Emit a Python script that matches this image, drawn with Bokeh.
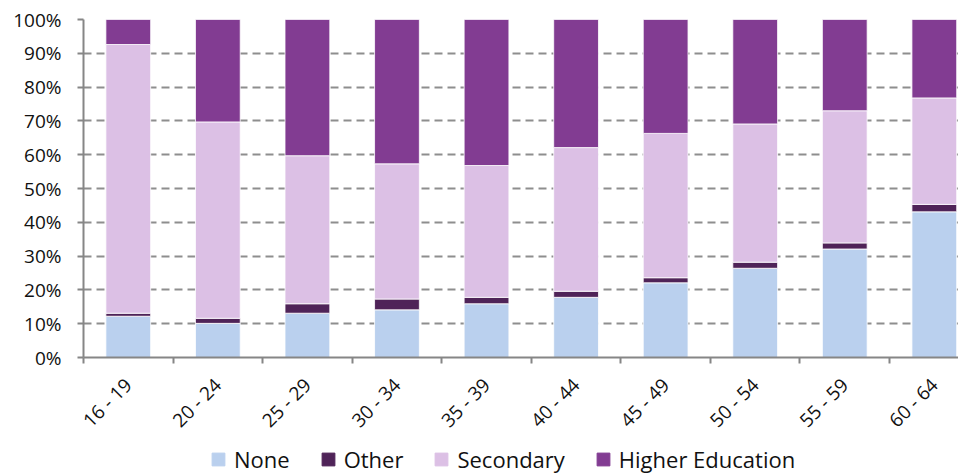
from math import pi
from bokeh.plotting import figure
from bokeh.layouts import column
from bokeh.models import (ColumnDataSource, FixedTicker, NumeralTickFormatter,
                          Range1d, Legend, LegendItem)
from bokeh.embed import file_html
from bokeh.resources import INLINE

categories = ["16 - 19", "20 - 24", "25 - 29", "30 - 34", "35 - 39",
              "40 - 44", "45 - 49", "50 - 54", "55 - 59", "60 - 64"]
none_pct = [12.2, 10.1, 13.1, 14.1, 15.9, 17.8, 22.1, 26.4, 32.1, 43.1]
other_pct = [0.9, 1.5, 2.8, 3.2, 1.9, 1.8, 1.5, 1.8, 1.8, 2.2]
secondary_pct = [79.5, 58.1, 43.8, 40.0, 39.0, 42.5, 42.7, 40.9, 39.1, 31.5]
higher_pct = [7.4, 30.3, 40.3, 42.7, 43.2, 37.9, 33.7, 30.9, 27.0, 23.2]

series = ["None", "Other", "Secondary", "Higher Education"]
colors = ["#BAD0EE", "#4F2358", "#DCC0E5", "#823C92"]
keys = ["none", "other", "secondary", "higher"]

FONT = "Open Sans"

x = [i + 0.5 for i in range(len(categories))]
src = ColumnDataSource(dict(
    x=x,
    none=[v / 100 for v in none_pct],
    other=[v / 100 for v in other_pct],
    secondary=[v / 100 for v in secondary_pct],
    higher=[v / 100 for v in higher_pct],
))

p = figure(width=958, height=445, output_backend="svg", toolbar_location=None,
           x_range=Range1d(0, 9.77), y_range=Range1d(0, 1))
p.min_border_left = 83
p.min_border_top = 19
p.min_border_right = 0
p.min_border_bottom = 88
p.outline_line_color = None

rs = p.vbar_stack(keys, x="x", width=0.5,
                  source=src, color=colors, line_color="white", line_width=0.8)

# grid
p.xgrid.visible = False
p.ygrid.grid_line_color = "#8E8E8E"
p.ygrid.grid_line_width = 2
p.ygrid.grid_line_dash = "8 5"
p.ygrid.ticker = FixedTicker(ticks=[i / 10 for i in range(11)])

# y axis
p.yaxis.ticker = FixedTicker(ticks=[i / 10 for i in range(11)])
p.yaxis.formatter = NumeralTickFormatter(format="0%")
p.yaxis.axis_line_color = "#868686"
p.yaxis.axis_line_width = 2
p.yaxis.major_tick_line_color = "#868686"
p.yaxis.major_tick_line_width = 2
p.yaxis.major_tick_out = 6
p.yaxis.major_tick_in = 0
p.yaxis.minor_tick_line_color = None
p.yaxis.major_label_standoff = 16
p.yaxis.major_label_text_font = FONT
p.yaxis.major_label_text_font_size = "19px"
p.yaxis.major_label_text_color = "#111111"

# x axis
p.xaxis.ticker = FixedTicker(ticks=x, minor_ticks=list(range(len(categories) + 1)))
p.xaxis.major_label_overrides = {xi: c for xi, c in zip(x, categories)}
p.xaxis.major_label_orientation = pi / 4
p.xaxis.axis_line_color = "#868686"
p.xaxis.axis_line_width = 2
p.xaxis.major_tick_line_color = None
p.xaxis.major_tick_out = 0
p.xaxis.major_tick_in = 0
p.xaxis.minor_tick_line_color = "#868686"
p.xaxis.minor_tick_line_width = 2
p.xaxis.minor_tick_out = 6
p.xaxis.minor_tick_in = 0
p.xaxis.major_label_standoff = 18
p.xaxis.major_label_text_font = FONT
p.xaxis.major_label_text_font_size = "19px"
p.xaxis.major_label_text_color = "#111111"

# legend in its own strip below the chart (same data, drawn outside its view)
lg = figure(width=958, height=31, output_backend="svg", toolbar_location=None,
            x_range=Range1d(0, 1), y_range=Range1d(5, 6))
lg.min_border_left = 0
lg.min_border_right = 0
lg.min_border_top = 0
lg.min_border_bottom = 0
lg.outline_line_color = None
lg.axis.visible = False
lg.grid.visible = False
lrs = lg.vbar_stack(keys, x="x", width=0.5, source=src, color=colors)
items = [LegendItem(label=s, renderers=[r]) for s, r in zip(series, lrs)]

legend = Legend(items=items, orientation="horizontal", location=(127, 2))
legend.label_text_font = FONT
legend.label_text_font_size = "22px"
legend.label_text_color = "#111111"
legend.glyph_width = 16
legend.glyph_height = 16
legend.label_standoff = 8
legend.spacing = 30
legend.padding = 0
legend.margin = 0
legend.border_line_color = None
legend.background_fill_alpha = 0
lg.add_layout(legend, "center")

layout = column(p, lg, spacing=0)
open("out.html", "w").write(file_html(layout, INLINE))
